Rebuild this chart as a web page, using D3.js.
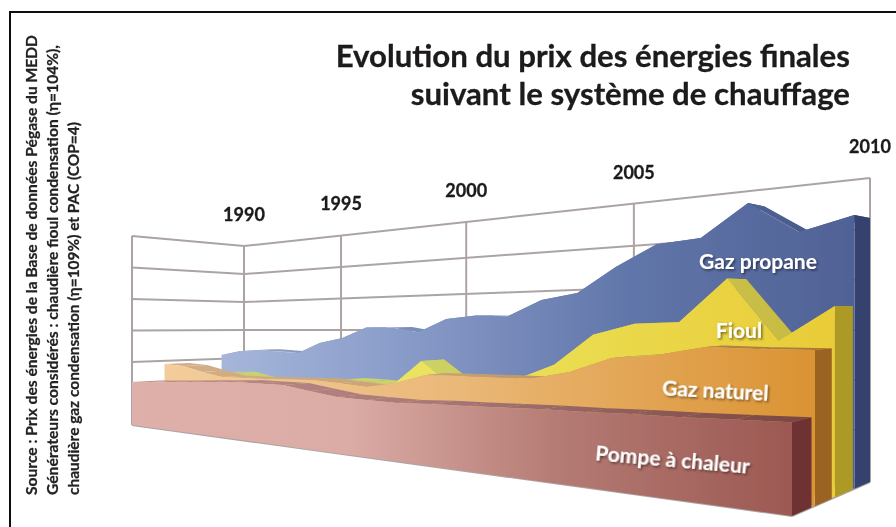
<!DOCTYPE html>
<html lang="fr">
<head>
<meta charset="utf-8">
<title>Evolution du prix des énergies finales</title>
<script src="https://cdn.jsdelivr.net/npm/d3@7/dist/d3.min.js"></script>
<style>
  html, body { margin: 0; background: #fff; }
  svg { display: block; font-family: Lato, "Open Sans", sans-serif; }
  .titre { font-size: 31.2px; font-weight: 700; fill: #1d1a1a; text-anchor: end; stroke: #1d1a1a; stroke-width: 0.3; }
  .annee { font-size: 18px; font-weight: 700; fill: #1c1a1a; text-anchor: middle; stroke: #1c1a1a; stroke-width: 0.3; }
  .source { font-size: 15px; font-weight: 700; fill: #222; stroke: #222; stroke-width: 0.25; }
  .serie { font-size: 21px; font-weight: 700; fill: #fff; text-anchor: middle; filter: url(#ombre); }
  .grille { stroke: #aca4a4; stroke-width: 2; fill: none; }
</style>
</head>
<body>
<div id="chart"></div>
<script>
const annees = d3.range(1990, 2011);
const anneesAxe = [1990, 1995, 2000, 2005, 2010];
const graduations = [0, 2, 4, 6, 8, 10, 12];

// c€/kWh, une valeur par an
const pompe = [2.73, 2.82, 2.90, 3.00, 3.08, 3.18, 3.18, 3.19, 2.98, 2.78, 2.75, 2.72, 2.80, 2.83, 2.88, 2.93, 2.95, 3.00, 3.02, 3.07, 3.12];
const gazNaturel = [3.79, 3.72, 3.42, 3.18, 3.20, 3.23, 3.28, 3.34, 3.25, 3.14, 3.43, 3.91, 3.94, 3.96, 3.97, 4.33, 4.97, 5.14, 5.48, 5.44, 5.44];
const fioul = [2.98, 3.18, 3.25, 2.95, 2.90, 2.93, 3.01, 3.22, 3.19, 3.11, 4.45, 3.29, 3.38, 3.76, 4.48, 5.86, 6.34, 6.41, 8.12, 5.68, 6.96];
const gazPropane = [4.26, 4.57, 4.68, 4.62, 4.56, 5.22, 5.53, 6.17, 6.17, 5.90, 6.62, 6.78, 6.73, 7.50, 7.79, 8.93, 9.84, 9.97, 11.27, 9.92, 10.42];

const width = 896;
const height = 527;

const svg = d3.select("#chart").append("svg").attr("width", width).attr("height", height).attr("viewBox", `0 0 ${width} ${height}`);
const defs = svg.append("defs");

const ombre = defs.append("filter").attr("id", "ombre").attr("x", "-10%").attr("y", "-30%").attr("width", "120%").attr("height", "170%");
ombre.append("feDropShadow").attr("dx", 1.5).attr("dy", 1.5).attr("stdDeviation", 1.2).attr("flood-color", "#000").attr("flood-opacity", 0.5);

// l'image d'origine est floue
defs.append("filter").attr("id", "flou").attr("x", 0).attr("y", 0).attr("width", width).attr("height", height).attr("filterUnits", "userSpaceOnUse")
  .append("feGaussianBlur").attr("stdDeviation", 0.55);

const racine = svg.append("g").attr("filter", "url(#flou)");

// scales : annee -> 0..1, valeur -> 0..1, puis perspective sur les coins de la boite
const xScale = d3.scaleLinear().domain([1990, 2010]).range([0, 1]);
const yScale = d3.scaleLinear().domain([0, 12]).range([0, 1]);
const perspective = (t) => t / (1.817 - 0.817 * t);

const xAvant = d3.scaleLinear().range([132, 792]);
const xArriere = d3.scaleLinear().range([244, 870]);
const solAvant = d3.scaleLinear().range([425, 516]);
const solArriere = d3.scaleLinear().range([414, 482]);
const hautAvant = d3.scaleLinear().range([236, 155]);
const hautArriere = d3.scaleLinear().range([246, 178]);

function projeter(annee, valeur, prof) {
  const u = perspective(xScale(annee));
  const x = d3.interpolateNumber(xAvant(u), xArriere(u))(prof);
  const sol = d3.interpolateNumber(solAvant(u), solArriere(u))(prof);
  const haut = d3.interpolateNumber(hautAvant(u), hautArriere(u))(prof);
  return [x, sol + (haut - sol) * yScale(valeur)];
}

const ligne = d3.line();

function degrade(id, stops) {
  const g = defs.append("linearGradient").attr("id", id).attr("gradientUnits", "userSpaceOnUse").attr("x1", 134).attr("x2", 850).attr("y1", 0).attr("y2", 0);
  stops.forEach(([o, c]) => g.append("stop").attr("offset", o).attr("stop-color", c));
  return `url(#${id})`;
}

// fond : cadre et grille
racine.append("rect").attr("width", width).attr("height", height).attr("fill", "#fff");
racine.append("path").attr("d", "M896,12 H10 V527").attr("fill", "none").attr("stroke", "#111").attr("stroke-width", 2);

const grille = racine.append("g").attr("class", "grille");
graduations.forEach((v) => {
  grille.append("path").attr("d", ligne([projeter(1990, v, 0), projeter(1990, v, 1), projeter(2010, v, 1)]));
});
anneesAxe.forEach((a) => {
  grille.append("path").attr("d", ligne([projeter(a, 0, 1), projeter(a, 12, 1)]));
});
grille.append("path").attr("d", ligne([projeter(1990, 0, 0), projeter(1990, 12, 0)]));
grille.append("path").attr("d", ligne([projeter(1990, 0, 0), projeter(2010, 0, 0)]));
grille.append("path").attr("d", ligne([projeter(2010, 0, 0), projeter(2010, 0, 1)]));

const series = [
  { nom: "propane", valeurs: gazPropane, d0: 0.8, d1: 1, face: [[0, "#b4c3e2"], [0.35, "#8c9ecb"], [0.7, "#6075a9"], [1, "#506296"]], dessus: [[0, "#9aa9cb"], [0.4, "#7a8cb8"], [1, "#445587"]], cote: "#36426f" },
  { nom: "fioul", valeurs: fioul, d0: 0.55, d1: 0.78, face: [[0, "#e9e98a"], [0.45, "#ebe25a"], [1, "#e9cb36"]], dessus: [[0, "#c6d27a"], [0.4, "#ccd264"], [1, "#c8b83c"]], cote: "#ad9a28" },
  { nom: "gaz", valeurs: gazNaturel, d0: 0.29, d1: 0.51, face: [[0, "#f5cf9f"], [0.45, "#eab878"], [1, "#d98f2c"]], dessus: [[0, "#d4b08c"], [0.45, "#c9a072"], [1, "#a87434"]], cote: "#9a6420" },
  { nom: "pompe", valeurs: pompe, d0: 0, d1: 0.25, face: [[0, "#dfb0aa"], [0.3, "#dbaba5"], [0.6, "#b37a73"], [1, "#96504a"]], dessus: [[0, "#bd8f8b"], [0.4, "#a9797a"], [1, "#74403c"]], cote: "#6e3330" }
];

series.forEach((s) => {
  const g = racine.append("g").attr("class", `serie-${s.nom}`);
  const points = annees.map((a, i) => ({ annee: a, valeur: s.valeurs[i] }));
  const couleurDessus = degrade(`dessus-${s.nom}`, s.dessus);

  // dessus, tranche par tranche
  g.selectAll("path.dessus").data(d3.pairs(points)).join("path").attr("class", "dessus").attr("fill", couleurDessus).attr("d", ([p, q]) => ligne([
    projeter(p.annee, p.valeur, s.d0), projeter(q.annee, q.valeur, s.d0), projeter(q.annee, q.valeur, s.d1), projeter(p.annee, p.valeur, s.d1)
  ]) + "Z");

  // cote droit
  const fin = points[points.length - 1];
  g.append("path").attr("fill", s.cote).attr("d", ligne([
    projeter(fin.annee, fin.valeur, s.d0), projeter(fin.annee, fin.valeur, s.d1), projeter(fin.annee, 0, s.d1), projeter(fin.annee, 0, s.d0)
  ]) + "Z");

  // face avant
  const aire = d3.area()
    .x((d) => projeter(d.annee, d.valeur, s.d0)[0])
    .y0((d) => projeter(d.annee, 0, s.d0)[1])
    .y1((d) => projeter(d.annee, d.valeur, s.d0)[1]);
  g.append("path").attr("fill", degrade(`face-${s.nom}`, s.face)).attr("d", aire(points));
});

// annees au dessus de la grille
anneesAxe.forEach((a) => {
  const [x, y] = projeter(a, 12, 1);
  racine.append("text").attr("class", "annee").attr("x", x).attr("y", y - 25).text(a);
});

// titre
racine.append("text").attr("class", "titre").attr("x", 850).attr("y", 67).text("Evolution du prix des énergies finales");
racine.append("text").attr("class", "titre").attr("x", 850).attr("y", 105).text("suivant le système de chauffage");

// source, verticale : le texte est etire dans sa longueur sur l'original
const lignesSource = [
  [37, 460, "Source : Prix des énergies  de la Base de données Pégase du MEDD"],
  [58, 450, "Générateurs considérés : chaudière fioul condensation (η=104%),"],
  [79, 373, "chaudière gaz condensation (η=109%) et PAC (COP=4)"]
];
lignesSource.forEach(([x, longueur, t]) => {
  racine.append("text").attr("class", "source").attr("transform", `translate(${x},495) rotate(-90)`)
    .attr("textLength", longueur).attr("lengthAdjust", "spacingAndGlyphs").text(t);
});

// noms des series
racine.append("text").attr("class", "serie").attr("transform", "translate(758,269)").text("Gaz propane");
racine.append("text").attr("class", "serie").attr("transform", "translate(739,338)").text("Fioul");
racine.append("text").attr("class", "serie").attr("transform", "translate(715,398) rotate(3)").text("Gaz naturel");
racine.append("text").attr("class", "serie").attr("transform", "translate(672,467) rotate(5)").text("Pompe à chaleur");
</script>
</body>
</html>
